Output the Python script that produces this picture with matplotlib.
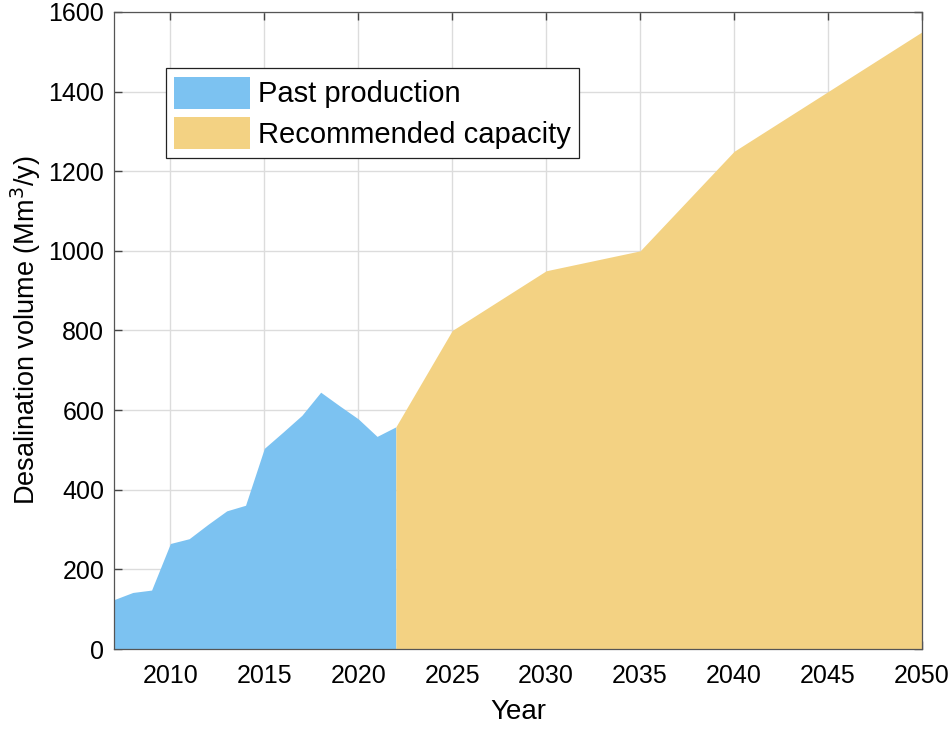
import matplotlib
matplotlib.use("Agg")
import matplotlib.pyplot as plt

past_years = [2007, 2008, 2009, 2010, 2011, 2012, 2013, 2014, 2015, 2016, 2017, 2018, 2019, 2020, 2021, 2022]
past_values = [124, 142, 148, 265, 277, 313, 347, 361, 504, 545, 587, 645, 611, 578, 534, 558]
rec_years = [2022, 2025, 2030, 2035, 2040, 2045, 2050]
rec_values = [558, 800, 950, 1000, 1250, 1400, 1550]
xticks = [2010, 2015, 2020, 2025, 2030, 2035, 2040, 2045, 2050]
yticks = [0, 200, 400, 600, 800, 1000, 1200, 1400, 1600]

plt.rcParams['font.family'] = ['Liberation Sans', 'DejaVu Sans']

fig = plt.figure(figsize=(9.5, 7.34), dpi=100)
ax = fig.add_axes([0.12, 0.1158, 0.8505, 0.8679])

blue = '#7CC2F1'
yellow = '#F3D283'
ax.fill_between(past_years, 0, past_values, color=blue, linewidth=0, label='Past production', zorder=2)
ax.fill_between(rec_years, 0, rec_values, color=yellow, linewidth=0, label='Recommended capacity', zorder=2)

ax.set_xlim(2007, 2050)
ax.set_ylim(0, 1600)
ax.set_xticks(xticks)
ax.set_yticks(yticks)
ax.grid(True, color='#DCDCDC', linewidth=1.0, zorder=0)
ax.set_axisbelow(True)
ax.tick_params(direction='in', length=6, width=1.0, labelsize=18, color='#444444', top=True, right=True)
ax.tick_params(axis='x', pad=11)
ax.tick_params(axis='y', pad=7)
for s in ax.spines.values():
    s.set_color('#555555')
    s.set_linewidth(0.9)
ax.set_xlabel('Year', fontsize=20, labelpad=8)
ax.set_ylabel('Desalination volume (Mm$^3$/y)', fontsize=19.5, labelpad=4)

leg = ax.legend(loc='upper left', bbox_to_anchor=(0.064, 0.912), fontsize=21, frameon=True,
                fancybox=False, edgecolor='#222222', framealpha=1, borderpad=0.3,
                handlelength=2.6, handleheight=1.3, handletextpad=0.25, labelspacing=0.3,
                borderaxespad=0)
leg.get_frame().set_linewidth(0.9)

fig.savefig('out.png', dpi=100)
